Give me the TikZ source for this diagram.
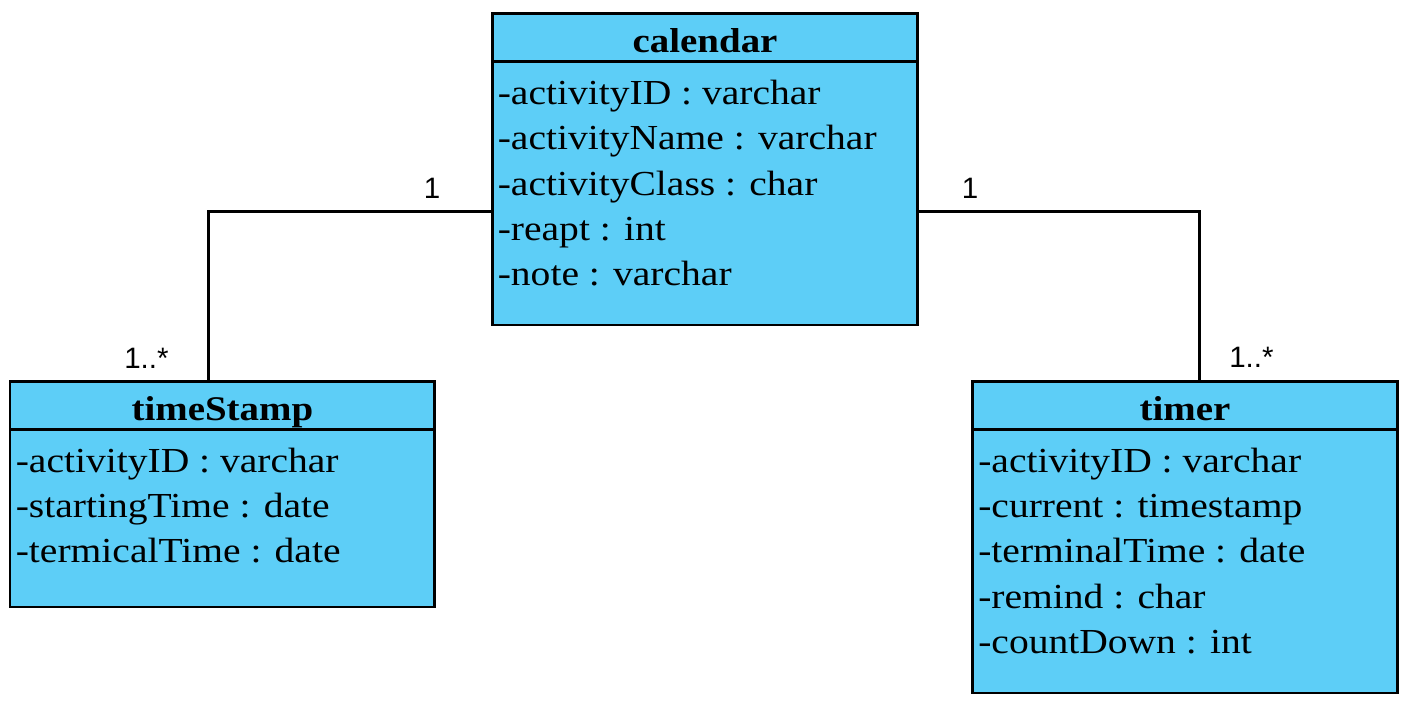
\documentclass[tikz,border=0pt]{standalone}
\usepackage{fontspec}
\setmainfont{Liberation Serif}[FakeStretch=1.125]
\newfontfamily\multfont{Liberation Sans}
\usepackage{xcolor}
\usepackage{tikz}
\usetikzlibrary{positioning}
\definecolor{classblue}{RGB}{93,206,247}

\begin{document}
\begin{tikzpicture}[x=0.025cm, y=-0.025cm,
    classhead/.style={draw, line width=1.9pt, fill=classblue, anchor=north west,
        minimum width=10.615cm, minimum height=1.2cm, inner sep=0pt, outer sep=0pt,
        font=\fontsize{24.6}{29}\selectfont\bfseries, text height=21.4pt, text depth=0pt},
    classbody/.style={draw, line width=1.9pt, fill=classblue, minimum width=10.615cm,
        inner sep=0pt, outer sep=0pt},
    attrs/.style={anchor=north west, align=left, inner sep=0pt,
        font=\fontsize{25}{32.2}\selectfont},
    mult/.style={font=\multfont\fontsize{21}{25}\selectfont, inner sep=0pt},
    assoc/.style={line width=1.9pt}]
    \useasboundingbox (0,0) rectangle (1414,708);

    % 1. calendar class
    \node[classhead] (cal) at (492.7,13.5) {calendar};
    \node[classbody, below=0pt of cal, minimum height=6.5875cm] (calbody) {};
    \node[attrs] (calattr) at (497.5,80) {-activityID : varchar\\-activityName : varchar\\-activityClass : char\\-reapt : int\\-note : varchar};

    % 2. timeStamp class
    \node[classhead] (ts) at (10,381.7) {timeStamp};
    \node[classbody, below=0pt of ts, minimum height=4.43cm] (tsbody) {};
    \node[attrs] (tsattr) at (15.5,447.7) {-activityID : varchar\\-startingTime : date\\-termicalTime : date};

    % 3. timer class
    \node[classhead] (tm) at (972.7,381.7) {timer};
    \node[classbody, below=0pt of tm, minimum height=6.58cm] (tmbody) {};
    \node[attrs] (tmattr) at (978,447.7) {-activityID : varchar\\-current : timestamp\\-terminalTime : date\\-remind : char\\-countDown : int};

    % 4. associations
    \draw[assoc] ([yshift=-0.4575cm]calbody.west) -| ([xshift=-0.345cm]ts.north);
    \draw[assoc] ([yshift=-0.4575cm]calbody.east) -| ([xshift=0.357cm]tm.north);

    % 5. multiplicities
    \node[mult, anchor=base] (calmL) at (432,198.3) {1};
    \node[mult, anchor=base west] (tsm) at (124,368.3) {1..*};
    \node[mult, anchor=base] (calmR) at (970,198.3) {1};
    \node[mult, anchor=base west] (tmm) at (1229,367.5) {1..*};
\end{tikzpicture}
\end{document}
